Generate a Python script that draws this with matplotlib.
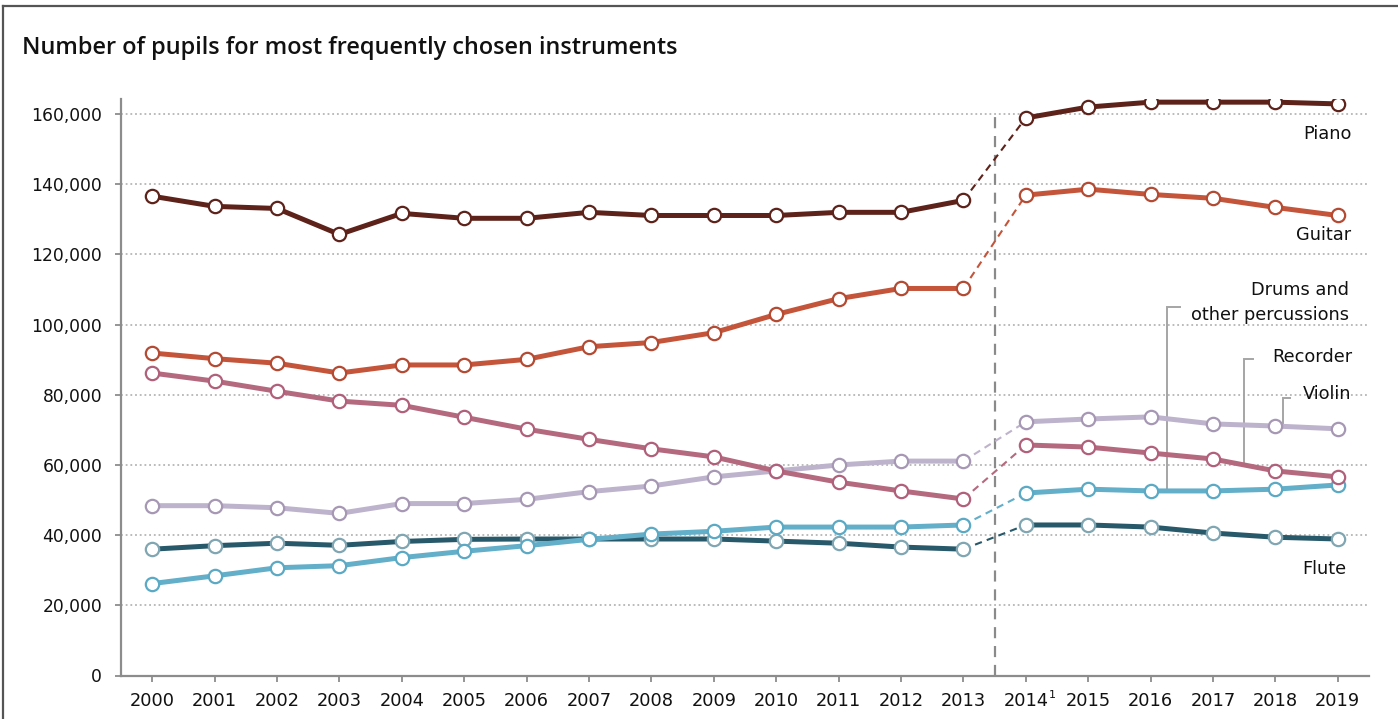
import matplotlib
matplotlib.use("Agg")
import matplotlib.pyplot as plt
import numpy as np
from matplotlib.lines import Line2D

plt.rcParams['font.family'] = ['DejaVu Sans']

years = ["2000", "2001", "2002", "2003", "2004", "2005", "2006", "2007", "2008", "2009",
         "2010", "2011", "2012", "2013", "2014", "2015", "2016", "2017", "2018", "2019"]

piano = [136600, 133700, 133100, 125700, 131700, 130300, 130300, 132000, 131100, 131100,
         131100, 132000, 132000, 135400, 158900, 162000, 163400, 163400, 163400, 162900]
guitar = [91900, 90300, 89000, 86200, 88500, 88500, 90100, 93700, 94900, 97700,
          102900, 107400, 110300, 110300, 136900, 138600, 137100, 136000, 133400, 131100]
recorder = [86200, 83900, 81000, 78200, 77000, 73600, 70200, 67300, 64600, 62300,
            58300, 55100, 52600, 50300, 65700, 65100, 63400, 61700, 58300, 56600]
violin = [48400, 48400, 47800, 46200, 49000, 49000, 50200, 52400, 54000, 56600,
          58300, 60000, 61100, 61100, 72300, 73100, 73700, 71700, 71100, 70300]
drums = [26200, 28400, 30700, 31300, 33600, 35400, 37000, 38800, 40300, 41100,
         42300, 42300, 42300, 42900, 52000, 53100, 52600, 52600, 53100, 54300]
flute = [36000, 37000, 37700, 37100, 38200, 38800, 38900, 38900, 38900, 38900,
         38300, 37700, 36600, 36000, 42900, 42900, 42300, 40600, 39400, 38900]

series_names = ["Flute", "Drums and\nother percussions", "Violin", "Recorder", "Guitar", "Piano"]
series_values = [flute, drums, violin, recorder, guitar, piano]
line_colors = ["#27596a", "#63aec9", "#beb3cc", "#b5697f", "#c4553a", "#5d2219"]
edge_colors = ["#7fa6b2", "#5aa9c5", "#a698b5", "#b0607a", "#b44a32", "#5d2219"]

y_ticks = [0, 20000, 40000, 60000, 80000, 100000, 120000, 140000, 160000]

W, H = 1398, 719
fig = plt.figure(figsize=(W / 100, H / 100), dpi=100)
ax = fig.add_axes([121 / W, 1 - 675.5 / H, (1369 - 121) / W, (675.5 - 99) / H])

x = np.arange(len(years))
brk = years.index("2014")

for vals, lc, ec in zip(series_values, line_colors, edge_colors):
    v = np.array(vals, dtype=float)
    # dashed link across the break in the series
    ax.plot(x[brk - 1:brk + 1], v[brk - 1:brk + 1], color=lc, lw=1.5,
            ls=(0, (3.5, 2.5)), zorder=3)
    for seg in (slice(0, brk), slice(brk, len(x))):
        ax.plot(x[seg], v[seg], color=lc, lw=3.6, solid_capstyle='round',
                marker='o', ms=9.6, mfc='white', mec=ec, mew=1.6, zorder=4)

# break marker between 2013 and 2014
ax.plot([brk - 0.5, brk - 0.5], [0, 160000], color="#8a8a8a", lw=1.6,
        ls=(0, (5, 3.5)), zorder=2)

ax.set_xlim(-0.5, len(x) - 0.5)
ax.set_ylim(0, 164300)
ax.set_yticks(y_ticks)
ax.set_yticklabels([f"{t:,}" for t in y_ticks])
ax.set_xticks(x)
ax.set_xticklabels(years)
for t in y_ticks[1:]:
    ax.axhline(t, color="#b5b5b5", lw=1.3, ls=(0, (1, 1.6)), zorder=1)

for side in ("top", "right"):
    ax.spines[side].set_visible(False)
for side in ("left", "bottom"):
    ax.spines[side].set_color("#8c8c8c")
    ax.spines[side].set_linewidth(1.6)
ax.tick_params(axis='y', direction='out', length=4.5, width=1.3, color="#8c8c8c",
               pad=9, labelsize=12.3, labelcolor="#111111")
ax.tick_params(axis='x', direction='out', length=4, width=1.3, color="#8c8c8c",
               pad=8, labelsize=12.8, labelcolor="#111111")

# footnote marker on 2014
ax.annotate("1", xy=(brk, 0), xycoords='data', xytext=(27, -19),
            textcoords='offset pixels', fontsize=8, color="#111111",
            ha='center', va='center', annotation_clip=False)

# series labels
label_pos = {
    "Piano": (19.22, 154200),
    "Guitar": (19.22, 125500),
    "Drums and\nother percussions": (19.18, 106300),
    "Recorder": (19.24, 90700),
    "Violin": (19.21, 80200),
    "Flute": (19.13, 30300),
}
for name, (lx, ly) in label_pos.items():
    ax.text(lx, ly, name, ha='right', va='center', fontsize=12.8, color="#111111",
            linespacing=1.45, multialignment='right', zorder=6)

# leader lines from labels to their series
leaders = [
    (drums, 16.26, 16.47, 105000),
    (recorder, 17.49, 17.64, 90200),
    (violin, 18.12, 18.24, 79100),
]
for vals, lx, hx, top in leaders:
    bottom = np.interp(lx, x, vals)
    ax.plot([hx, lx, lx], [top, top, bottom], color="#a5a5a5", lw=1.4,
            solid_joinstyle='miter', zorder=3.5)

title = fig.text(22 / W, 1 - 48 / H, "Number of pupils for most frequently chosen instruments",
                 fontsize=15, family=['Open Sans', 'DejaVu Sans'], fontweight='semibold',
                 color="#111111", va='center', ha='left')
# size the title to span its intended width
renderer = fig.canvas.get_renderer()
tw = title.get_window_extent(renderer).width
title.set_fontsize(15 * 660 / tw)

# outer frame (top and left edges)
fig.add_artist(Line2D([2.5 / W, 2.5 / W], [0, 1 - 5.5 / H], transform=fig.transFigure,
                      color="#555555", lw=1.6))
fig.add_artist(Line2D([2.5 / W, 1], [1 - 5.5 / H, 1 - 5.5 / H], transform=fig.transFigure,
                      color="#555555", lw=1.6))

fig.savefig("out.png", dpi=100)
